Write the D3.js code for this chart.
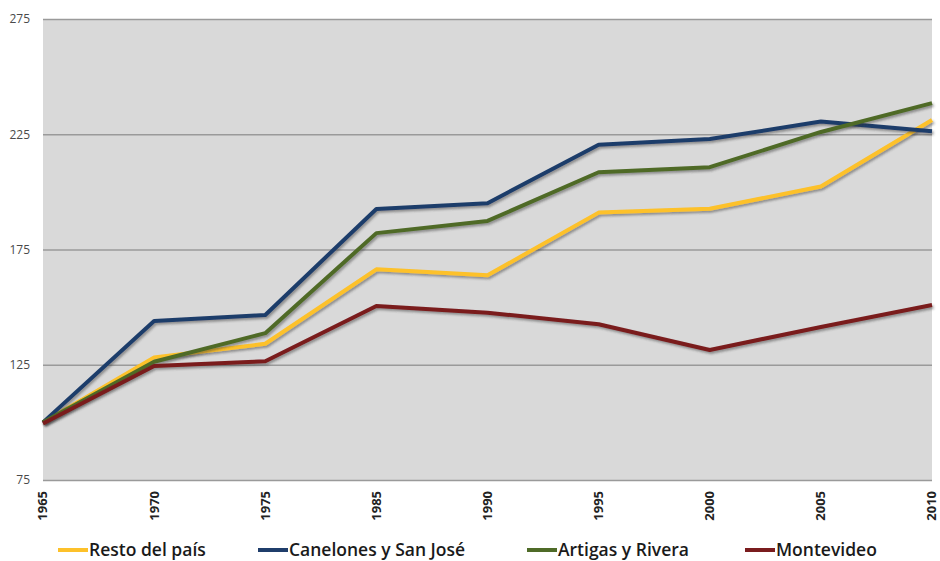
<!DOCTYPE html>
<html>
<head>
<meta charset="utf-8">
<script src="https://cdn.jsdelivr.net/npm/d3@7"></script>
<style>
  html, body { margin: 0; padding: 0; background: #fff; }
  svg { display: block; }
</style>
</head>
<body>
<svg id="chart" width="940" height="561"></svg>
<script>
const years = ["1965", "1970", "1975", "1985", "1990", "1995", "2000", "2005", "2010"];
const restoDelPais = [100, 128.2, 134.1, 166.4, 163.8, 191.0, 192.7, 202.3, 231.2];
const canelonesSanJose = [100, 144.0, 146.6, 192.6, 195.1, 220.4, 222.9, 230.5, 226.3];
const artigasRivera = [100, 126.3, 138.7, 182.1, 187.4, 208.5, 210.7, 226.0, 238.5];
const montevideo = [99.5, 124.5, 126.5, 150.5, 147.6, 142.6, 131.4, 141.4, 150.9];
const seriesNames = ["Resto del país", "Canelones y San José", "Artigas y Rivera", "Montevideo"];
const yTicks = [75, 125, 175, 225, 275];

const seriesValues = [restoDelPais, canelonesSanJose, artigasRivera, montevideo];
const colors = ["#FDC12A", "#1F3D6B", "#4F6B28", "#7A1C1E"];

const svg = d3.select("#chart");
const margin = { left: 43, right: 8, top: 19, bottom: 81 };
const W = 940, H = 561;

const x = d3.scalePoint().domain(years).range([margin.left, W - margin.right]);
const y = d3.scaleLinear().domain([75, 275]).range([H - margin.bottom, margin.top]);

const defs = svg.append("defs");
const f = defs.append("filter").attr("id", "shadow")
  .attr("x", "-5%").attr("y", "-20%").attr("width", "110%").attr("height", "140%");
f.append("feDropShadow").attr("dx", 1.5).attr("dy", 2).attr("stdDeviation", 1.2)
  .attr("flood-color", "#333").attr("flood-opacity", 0.45);

// plot background
svg.append("rect")
  .attr("x", margin.left).attr("y", y(275))
  .attr("width", x("2010") - x("1965")).attr("height", y(75) - y(275))
  .attr("fill", "#D9D9D9");

// gridlines and y labels
const yAxis = d3.axisLeft(y).tickValues(yTicks)
  .tickSize(-(x("2010") - x("1965"))).tickPadding(13).tickFormat(d3.format("d"));
const gy = svg.append("g").attr("transform", `translate(${margin.left},0)`).call(yAxis);
gy.select(".domain").remove();
gy.selectAll(".tick line").attr("stroke", "#9A9A9A").attr("stroke-width", 1.5);
gy.selectAll(".tick text")
  .attr("font-family", "'Open Sans', sans-serif")
  .attr("font-size", 12).attr("fill", "#4a4a4a");

// x axis labels
const xAxis = d3.axisBottom(x).tickSize(0).tickPadding(0);
const gx = svg.append("g").attr("transform", `translate(0,${y(75)})`).call(xAxis);
gx.select(".domain").remove();
gx.selectAll(".tick text")
  .attr("font-family", "'Open Sans', sans-serif")
  .attr("font-size", 13).attr("font-weight", "bold").attr("fill", "#222")
  .attr("text-anchor", "end")
  .attr("transform", "translate(0,11) rotate(-90)")
  .attr("x", 0).attr("y", 0).attr("dy", "0.3em");

// lines
const line = d3.line().x((d, i) => x(years[i])).y(d => y(d));
seriesValues.forEach((vals, k) => {
  svg.append("path")
    .datum(vals)
    .attr("d", line)
    .attr("fill", "none")
    .attr("stroke", colors[k])
    .attr("stroke-width", 4)
    .attr("stroke-linejoin", "round")
    .attr("filter", "url(#shadow)");
});

// legend
const legendX = [58, 258, 527, 745];
const lg = svg.append("g");
seriesNames.forEach((name, k) => {
  const g = lg.append("g").attr("transform", `translate(${legendX[k]},550)`);
  g.append("line").attr("x1", 0).attr("x2", 30).attr("y1", 0).attr("y2", 0)
    .attr("stroke", colors[k]).attr("stroke-width", 4);
  g.append("text").attr("x", 31).attr("y", 0).attr("dy", "0.35em")
    .attr("font-family", "'Open Sans', sans-serif")
    .attr("font-size", 17.5).attr("font-weight", 600).attr("fill", "#1a1a1a")
    .text(name);
});
</script>
</body>
</html>
